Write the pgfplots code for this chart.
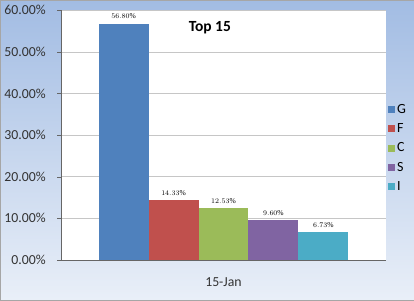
\documentclass[border=0pt]{standalone}
\usepackage{pgfplots}
\pgfplotsset{compat=1.18}
\usepackage{fontspec}
\setmainfont{Carlito}
\newfontfamily\lblfont{Liberation Serif}
\definecolor{cG}{HTML}{4F81BD}
\definecolor{cF}{HTML}{C0504D}
\definecolor{cC}{HTML}{9BBB59}
\definecolor{cS}{HTML}{8064A2}
\definecolor{cI}{HTML}{4BACC6}
\definecolor{bgtop}{HTML}{A2BCE3}
\definecolor{bgbot}{HTML}{E9EFF8}
\begin{document}
\begin{tikzpicture}[x=1pt,y=1pt]
\shade[top color=bgtop, bottom color=bgbot, draw=gray!70] (0,0) rectangle (414,300);
\begin{axis}[
  at={(61pt,40pt)}, anchor=south west,
  scale only axis, width=325pt, height=250pt,
  axis background/.style={fill=white},
  ybar=0pt, bar width=50pt,
  xmin=-1, xmax=1, ymin=0, ymax=60,
  axis x line*=bottom, axis y line*=left,
  axis line style={draw=gray!80!black, thin},
  xtick={0}, xticklabels={15-Jan},
  x tick style={draw=none},
  extra x ticks={-1,1}, extra x tick labels={},
  extra x tick style={tick style={draw=gray!80!black}, major tick length=4pt, tick align=outside},
  ytick={0,10,...,60},
  yticklabels={0.00\%,10.00\%,20.00\%,30.00\%,40.00\%,50.00\%,60.00\%},
  y tick style={draw=gray!80!black}, major tick length=4pt, tick align=outside,
  ymajorgrids, grid style={draw=gray!45, thin},
  tick label style={font=\fontsize{13.8}{16}\selectfont, text=black!80},
  yticklabel style={xshift=-8pt},
  xticklabel style={yshift=-10pt},
  nodes near coords={\pgfmathprintnumber[fixed,fixed zerofill,precision=2]{\pgfplotspointmeta}\%},
  nodes near coords style={font=\lblfont\fontsize{7.5}{8}\selectfont, text=black, yshift=1pt},
  legend style={at={(rel axis cs:1,0.635)}, anchor=north west, draw=none, fill=none,
    font=\fontsize{14}{19.5}\selectfont, row sep=4.6pt, inner sep=1pt, xshift=1pt},
  legend cell align=left,
  legend image code/.code={\fill[#1] (0pt,-3.5pt) rectangle (7pt,3.5pt);},
  clip=false,
]
\addplot[fill=cG, draw=none] coordinates {(0,56.80)};
\addplot[fill=cF, draw=none] coordinates {(0,14.33)};
\addplot[fill=cC, draw=none] coordinates {(0,12.53)};
\addplot[fill=cS, draw=none] coordinates {(0,9.60)};
\addplot[fill=cI, draw=none] coordinates {(0,6.73)};
\legend{G,F,C,S,I}
\node[font=\bfseries\fontsize{15.5}{17}\selectfont] at (rel axis cs:0.458,0.93) {Top 15};
\end{axis}
\end{tikzpicture}
\end{document}
